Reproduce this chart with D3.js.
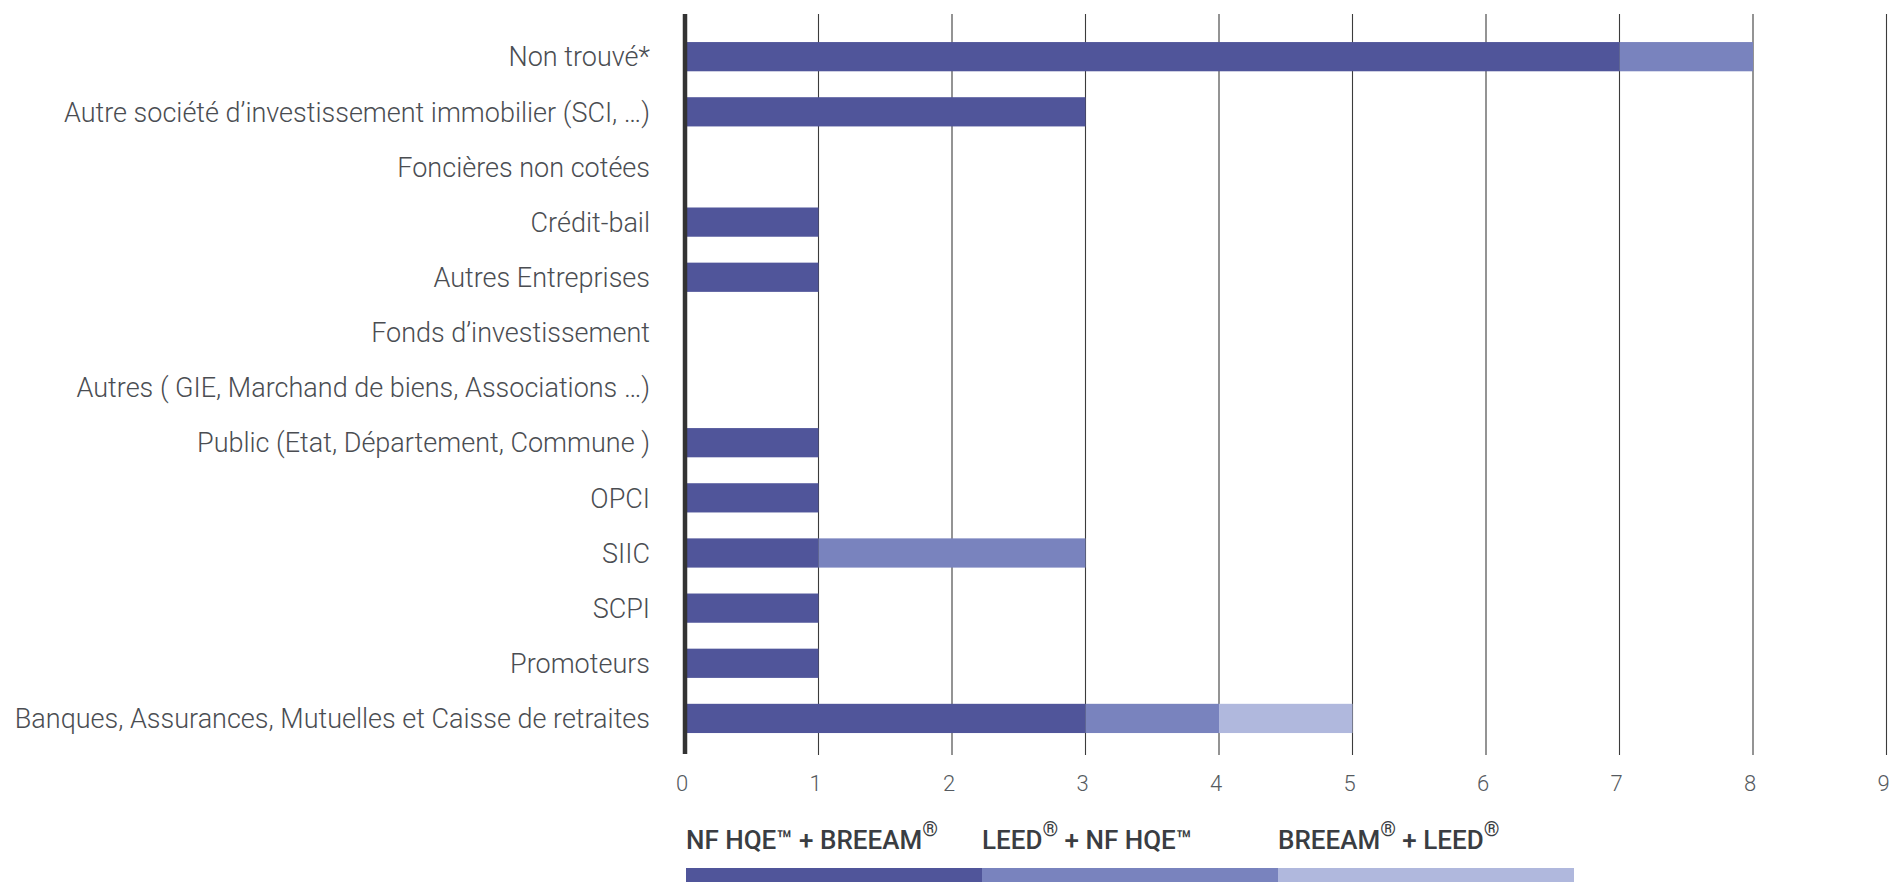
<!DOCTYPE html>
<html><head><meta charset="utf-8">
<script src="https://cdn.jsdelivr.net/npm/d3@7"></script>
<style>html,body{margin:0;padding:0;background:#fff;}svg{display:block;}</style>
</head><body>
<svg id="chart" width="1890" height="882"></svg>
<script>
const categories = [
  "Non trouvé*",
  "Autre société d’investissement immobilier (SCI, …)",
  "Foncières non cotées",
  "Crédit-bail",
  "Autres Entreprises",
  "Fonds d’investissement",
  "Autres ( GIE, Marchand de biens, Associations …)",
  "Public (Etat, Département, Commune )",
  "OPCI",
  "SIIC",
  "SCPI",
  "Promoteurs",
  "Banques, Assurances, Mutuelles et Caisse de retraites"
];
const seriesNames = ["NF HQE™ + BREEAM®", "LEED® + NF HQE™", "BREEAM® + LEED®"];
const nfHqeBreeam = [7, 3, 0, 1, 1, 0, 0, 1, 1, 1, 1, 1, 3];
const leedNfHqe   = [1, 0, 0, 0, 0, 0, 0, 0, 0, 2, 0, 0, 1];
const breeamLeed  = [0, 0, 0, 0, 0, 0, 0, 0, 0, 0, 0, 0, 1];
const tickValues = [0, 1, 2, 3, 4, 5, 6, 7, 8, 9];
const colors = ["#50559a", "#7983be", "#b0b8dd"];

const svg = d3.select("#chart");
const x = d3.scaleLinear().domain([0, 9]).range([685, 1886.5]);
const y = d3.scaleBand().domain(categories).range([29.1, 746]).paddingInner(0.47).paddingOuter(0.235);

const rows = categories.map((c, i) => ({cat: c, v: [nfHqeBreeam[i], leedNfHqe[i], breeamLeed[i]]}));
const keys = [0, 1, 2];
const stack = d3.stack().keys(keys).value((d, k) => d.v[k])(rows);

// gridlines
svg.append("g").selectAll("line").data(tickValues.filter(t => t > 0)).join("line")
  .attr("x1", d => x(d)).attr("x2", d => x(d))
  .attr("y1", 14).attr("y2", 755)
  .attr("stroke", "#3c3c3c").attr("stroke-width", 1.1);

// bars
svg.append("g").selectAll("g").data(stack).join("g")
  .attr("fill", (d, i) => colors[i])
  .selectAll("rect").data(d => d).join("rect")
  .attr("x", d => x(d[0]))
  .attr("width", d => x(d[1]) - x(d[0]))
  .attr("y", d => y(d.data.cat))
  .attr("height", y.bandwidth());

// axis line at 0
svg.append("line").attr("x1", x(0)).attr("x2", x(0)).attr("y1", 14).attr("y2", 754)
  .attr("stroke", "#333").attr("stroke-width", 4.5);

// category labels
svg.append("g").selectAll("text").data(categories).join("text")
  .attr("x", 650).attr("y", d => y(d) + y.bandwidth() / 2)
  .attr("dy", "0.36em").attr("text-anchor", "end")
  .attr("font-family", "Roboto").attr("font-weight", 300).attr("font-size", 27)
  .attr("fill", "#4a4d52").text(d => d);

// tick labels
svg.append("g").selectAll("text").data(tickValues).join("text")
  .attr("x", d => x(d) - 3).attr("y", 791)
  .attr("text-anchor", "middle")
  .attr("font-family", "Roboto").attr("font-weight", 300).attr("font-size", 22)
  .attr("fill", "#555a60").text(d => d);

// legend
const legX = [686, 982, 1278];
const legW = 296;
const leg = svg.append("g");
leg.selectAll("rect").data(keys).join("rect")
  .attr("x", d => legX[d]).attr("y", 868).attr("width", legW).attr("height", 14)
  .attr("fill", d => colors[d]);
const lt = leg.selectAll("text").data(keys).join("text")
  .attr("x", d => legX[d]).attr("y", 849)
  .attr("font-family", "Roboto").attr("font-weight", 500).attr("font-size", 26)
  .attr("fill", "#3a3d42");
lt.each(function(d) {
  const t = d3.select(this);
  const parts = seriesNames[d].split("®");
  parts.forEach((p, i) => {
    if (p.length) t.append("tspan").attr("dy", i > 0 ? 13 : null).text(p);
    if (i < parts.length - 1) {
      t.append("tspan").attr("dy", -13).attr("font-size", 20).attr("font-weight", 400).text("®");
      if (i === parts.length - 2 && parts[i + 1] === "") {}
    }
  });
});
</script>
</body></html>
